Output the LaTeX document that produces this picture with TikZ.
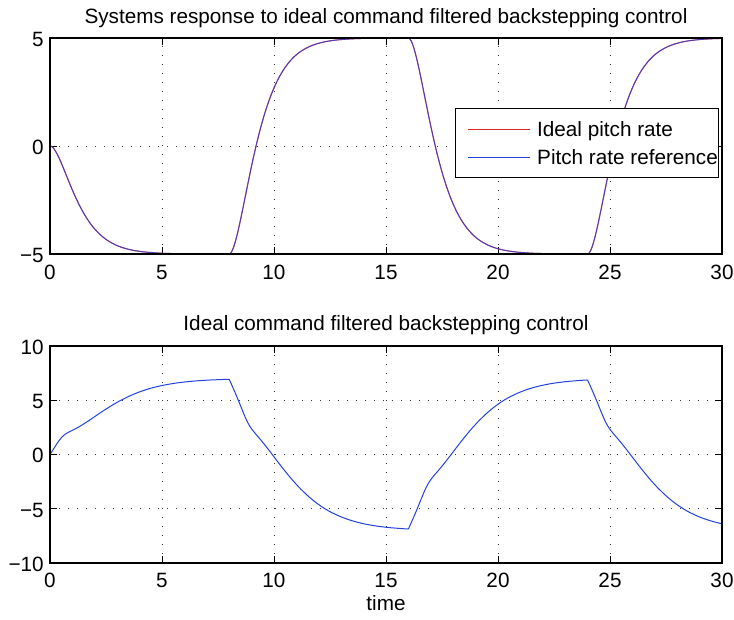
\documentclass[tikz,border=0pt]{standalone}
\usepackage{fontspec}
\setmainfont{Liberation Sans}
\usetikzlibrary{positioning}
\definecolor{mblue}{RGB}{35,65,225}
\definecolor{mred}{RGB}{225,35,35}

\begin{document}
\begin{tikzpicture}[
  x=1pt, y=1pt,
  font=\fontsize{20.7}{24}\selectfont,
  frame/.style={line width=1.1pt},
  gridline/.style={line width=0.8pt, dash pattern=on 1.1pt off 7.9pt, black!80},
  tickmark/.style={line width=0.8pt},
  curve/.style={line width=1pt, line join=round},
  lbl/.style={inner sep=0pt},
  declare function={
    resp(\s,\a,\b)=\b+(\a-\b)*(1+1.4*\s)*exp(max(-9,-1.4*\s));
    slw(\s)=(1+\s+\s*\s/2)*exp(max(-9,-\s));
    rmp(\s,\T)=0.12/\T*ln(1+exp(max(-9,(\T-\s)/0.12)));
    ctl(\s,\a,\b,\f,\T)=\b+(\a-\b)*(\f*rmp(\s,\T)+(1-\f)*slw(\s));
  }
]
  \useasboundingbox (0,0) rectangle (734,620);

  % upper axes: pitch rate
  \begin{scope}[shift={(50,474)}, xscale=22.4, yscale=21.6]
    \foreach \t in {5,10,...,25} \draw[gridline] (\t,-5) -- (\t,5);
    \draw[gridline] (0,0) -- (30,0);
    \foreach \t in {0,5,...,30} {
      \draw[tickmark] (\t,-5) -- ++(0,0.32);
      \draw[tickmark] (\t,5) -- ++(0,-0.32);
    }
    \foreach \v in {-5,0,5} {
      \draw[tickmark] (0,\v) -- ++(0.31,0);
      \draw[tickmark] (30,\v) -- ++(-0.31,0);
    }
    \draw[curve, mred] plot[domain=0:8, samples=121] (\x,{resp(\x,0,-5)})
      -- plot[domain=8:16, samples=121] (\x,{resp(\x-8,-5,5)})
      -- plot[domain=16:24, samples=121] (\x,{resp(\x-16,5,-5)})
      -- plot[domain=24:30, samples=91] (\x,{resp(\x-24,-5,5)});
    \draw[curve, mblue, opacity=0.75] plot[domain=0:8, samples=121] (\x,{resp(\x,0,-5)})
      -- plot[domain=8:16, samples=121] (\x,{resp(\x-8,-5,5)})
      -- plot[domain=16:24, samples=121] (\x,{resp(\x-16,5,-5)})
      -- plot[domain=24:30, samples=91] (\x,{resp(\x-24,-5,5)});
    \draw[frame] (0,-5) rectangle (30,5);
    \foreach \t in {0,5,...,30}
      \node[lbl, anchor=base] (ta\t) at (\t,-6.2) {\t};
    \foreach \v/\s [count=\i] in {-5/−5, 0/0, 5/5}
      \node[lbl, anchor=base east] (va\i) at (-0.27,\v-0.4) {\s};
    \node[lbl, anchor=base] (titlea) at (15,5.69) {Systems response to ideal command filtered backstepping control};
  \end{scope}

  % legend
  \node[draw, line width=0.8pt, fill=white, minimum width=263pt, minimum height=69pt,
    inner sep=0pt, anchor=north east] (legend) at (719,512) {};
  \coordinate (lra) at (468,490);
  \coordinate (lrb) at (530,490);
  \coordinate (lba) at (468,462);
  \coordinate (lbb) at (530,462);
  \draw[curve, mred] (lra) -- (lrb);
  \draw[curve, mblue] (lba) -- (lbb);
  \node[lbl, anchor=base west] (lgred) at (537,483.2) {Ideal pitch rate};
  \node[lbl, anchor=base west] (lgblue) at (537,455.2) {Pitch rate reference};

  % lower axes: control
  \begin{scope}[shift={(50,165.5)}, xscale=22.4, yscale=10.85]
    \foreach \t in {5,10,...,25} \draw[gridline] (\t,-10) -- (\t,10);
    \foreach \v in {-5,0,5} \draw[gridline] (0,\v) -- (30,\v);
    \foreach \t in {0,5,...,30} {
      \draw[tickmark] (\t,-10) -- ++(0,0.645);
      \draw[tickmark] (\t,10) -- ++(0,-0.645);
    }
    \foreach \v in {-10,-5,0,5,10} {
      \draw[tickmark] (0,\v) -- ++(0.31,0);
      \draw[tickmark] (30,\v) -- ++(-0.31,0);
    }
    \draw[curve, mblue] plot[domain=0:8, samples=161] (\x,{ctl(\x,0,7,0.26,0.55)})
      -- plot[domain=8:16, samples=161] (\x,{ctl(\x-8,6.93,-7,0.28,0.85)})
      -- plot[domain=16:24, samples=161] (\x,{ctl(\x-16,-6.86,7,0.28,0.85)})
      -- plot[domain=24:30, samples=121] (\x,{ctl(\x-24,6.86,-7,0.28,0.85)});
    \draw[frame] (0,-10) rectangle (30,10);
    \foreach \t in {0,5,...,30}
      \node[lbl, anchor=base] (tb\t) at (\t,-12.3) {\t};
    \foreach \v/\s [count=\i] in {-10/−10, -5/−5, 0/0, 5/5, 10/10}
      \node[lbl, anchor=base east] (vb\i) at (-0.27,\v-0.78) {\s};
    \node[lbl, anchor=base] (titleb) at (15,11.47) {Ideal command filtered backstepping control};
    \node[lbl, anchor=base] (xlabel) at (15,-14.4) {time};
  \end{scope}
\end{tikzpicture}
\end{document}
